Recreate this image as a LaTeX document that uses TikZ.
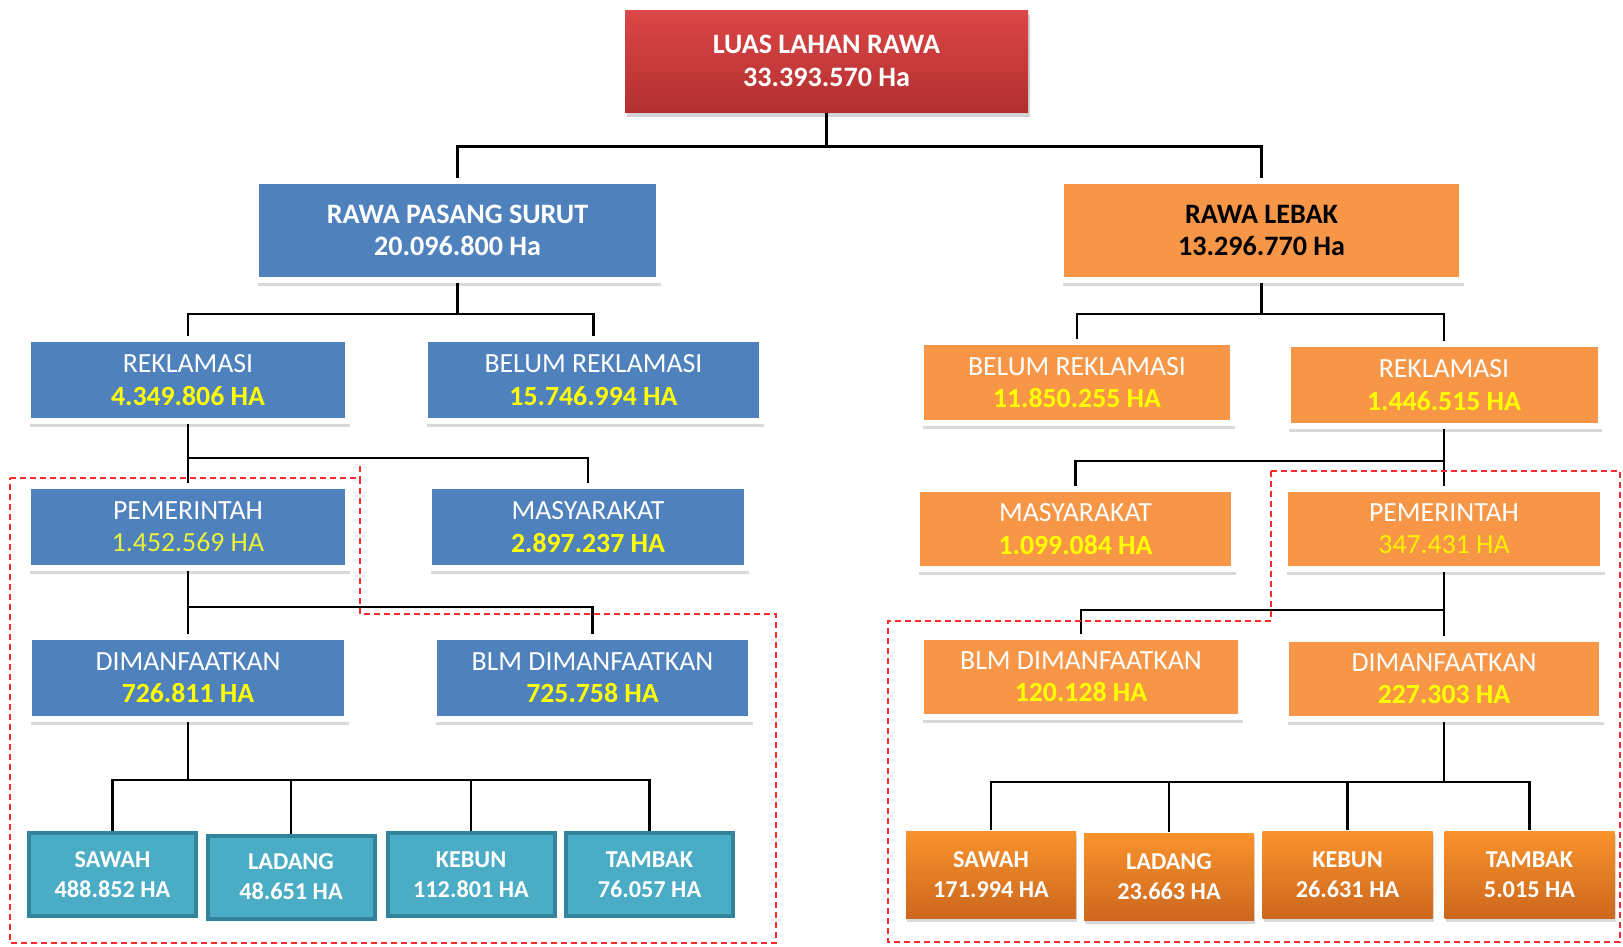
\documentclass[tikz,border=0pt]{standalone}
\usepackage{fontspec}
\setmainfont{Carlito}
\usetikzlibrary{shadows}

\definecolor{rawabiru}{HTML}{4F81BD}
\definecolor{rawaoranye}{HTML}{F79646}
\definecolor{merahatas}{HTML}{DC4646}
\definecolor{merahbawah}{HTML}{B22F30}
\definecolor{tosca}{HTML}{4BACC6}
\definecolor{toscagelap}{HTML}{31849B}
\definecolor{oranyeatas}{HTML}{FA932C}
\definecolor{oranyebawah}{HTML}{CC671E}
\definecolor{kuning}{HTML}{FFFF00}
\definecolor{kuningmuda}{HTML}{EAF23A}
\definecolor{kuningemas}{HTML}{FFF200}
\definecolor{garisbatas}{HTML}{FF2A2A}

\newcommand{\luas}[1]{\textbf{\color{kuning}#1}}

\begin{document}
\begin{tikzpicture}[
    conn/.style={line width=0.028cm, black},
    batas/.style={garisbatas, line width=0.016cm, dash pattern=on 0.06cm off 0.04cm},
    kotak/.style={align=center, inner sep=0pt, line width=0.06cm, draw=white,
        font=\fontsize{7.9}{9.2}\selectfont, text=white,
        drop shadow={shadow xshift=0.015cm, shadow yshift=-0.06cm, opacity=0.3}},
    biru/.style={kotak, fill=rawabiru},
    oranye/.style={kotak, fill=rawaoranye},
    kecil/.style={align=center, inner sep=0pt, minimum width=1.67cm, minimum height=0.83cm,
        font=\fontsize{6.9}{8.5}\selectfont\bfseries, text=white},
    kebiru/.style={kecil, fill=tosca, draw=toscagelap, line width=0.04cm},
    keoranye/.style={kecil, top color=oranyeatas, bottom color=oranyebawah,
        minimum width=1.70cm, minimum height=0.87cm,
        drop shadow={shadow xshift=0.01cm, shadow yshift=-0.04cm, opacity=0.3}}
]
\useasboundingbox (0,0) rectangle (16.23,-9.46);

% Induk
\node[align=center, inner sep=0pt, minimum width=4.03cm, minimum height=1.02cm,
    top color=merahatas, bottom color=merahbawah, text=white,
    font=\fontsize{8}{9.3}\selectfont\bfseries,
    drop shadow={shadow xshift=0.02cm, shadow yshift=-0.05cm, opacity=0.35}]
    (lahan) at (8.265,-0.61) {LUAS LAHAN RAWA\\33.393.570 Ha};

% Tingkat 1
\node[biru, minimum width=4.03cm, minimum height=0.99cm, font=\fontsize{8}{9.3}\selectfont\bfseries]
    (pasang) at (4.575,-2.305) {RAWA PASANG SURUT\\20.096.800 Ha};
\node[oranye, minimum width=4.01cm, minimum height=0.99cm, text=black, font=\fontsize{8}{9.3}\selectfont\bfseries]
    (lebak) at (12.615,-2.305) {RAWA LEBAK\\13.296.770 Ha};

% Tingkat 2
\node[biru, minimum width=3.20cm, minimum height=0.82cm] (reklL) at (1.88,-3.80) {REKLAMASI\\\luas{4.349.806 HA}};
\node[biru, minimum width=3.37cm, minimum height=0.82cm] (belumL) at (5.935,-3.80) {BELUM REKLAMASI\\\luas{15.746.994 HA}};
\node[oranye, minimum width=3.12cm, minimum height=0.81cm] (belumR) at (10.77,-3.825) {BELUM REKLAMASI\\\luas{11.850.255 HA}};
\node[oranye, minimum width=3.13cm, minimum height=0.82cm] (reklR) at (14.44,-3.85) {REKLAMASI\\\luas{1.446.515 HA}};

% Tingkat 3
\node[biru, minimum width=3.20cm, minimum height=0.82cm] (pemL) at (1.88,-5.27) {PEMERINTAH\\{\color{kuningmuda}1.452.569 HA}};
\node[biru, minimum width=3.18cm, minimum height=0.82cm] (masyL) at (5.88,-5.27) {MASYARAKAT\\\luas{2.897.237 HA}};
\node[oranye, minimum width=3.17cm, minimum height=0.80cm] (masyR) at (10.755,-5.29) {MASYARAKAT\\\luas{1.099.084 HA}};
\node[oranye, minimum width=3.18cm, minimum height=0.80cm] (pemR) at (14.44,-5.29) {PEMERINTAH\\{\color{kuningemas}347.431 HA}};

% Tingkat 4
\node[biru, minimum width=3.18cm, minimum height=0.82cm] (dimL) at (1.88,-6.78) {DIMANFAATKAN\\\luas{726.811 HA}};
\node[biru, minimum width=3.17cm, minimum height=0.82cm] (blmL) at (5.925,-6.78) {BLM DIMANFAATKAN\\\luas{725.758 HA}};
\node[oranye, minimum width=3.20cm, minimum height=0.80cm] (blmR) at (10.81,-6.77) {BLM DIMANFAATKAN\\\luas{120.128 HA}};
\node[oranye, minimum width=3.16cm, minimum height=0.80cm] (dimR) at (14.44,-6.79) {DIMANFAATKAN\\\luas{227.303 HA}};

% Tingkat 5
\node[kebiru] (sawahL) at (1.125,-8.745) {SAWAH\\488.852 HA};
\node[kebiru] (ladangL) at (2.91,-8.77) {LADANG\\48.651 HA};
\node[kebiru] (kebunL) at (4.71,-8.745) {KEBUN\\112.801 HA};
\node[kebiru] (tambakL) at (6.495,-8.745) {TAMBAK\\76.057 HA};
\node[keoranye] (sawahR) at (9.91,-8.745) {SAWAH\\171.994 HA};
\node[keoranye] (ladangR) at (11.69,-8.765) {LADANG\\23.663 HA};
\node[keoranye] (kebunR) at (13.475,-8.745) {KEBUN\\26.631 HA};
\node[keoranye] (tambakR) at (15.295,-8.745) {TAMBAK\\5.015 HA};

% Garis penghubung
\draw[conn] (lahan.south) -- ++(0,-0.34) -| (pasang.north);
\draw[conn] (lahan.south) -- ++(0,-0.34) -| (lebak.north);

\draw[conn] (pasang.south) -- ++(0,-0.31) -| (reklL.north);
\draw[conn] (pasang.south) -- ++(0,-0.31) -| (belumL.north);
\draw[conn] (lebak.south) -- ++(0,-0.31) -| (belumR.north);
\draw[conn] (lebak.south) -- ++(0,-0.31) -| (reklR.north);

\draw[conn] (reklL.south) -- ++(0,-0.34) -| (pemL.north);
\draw[conn] (reklL.south) -- ++(0,-0.34) -| (masyL.north);
\draw[conn] (reklR.south) -- ++(0,-0.32) -| (masyR.north);
\draw[conn] (reklR.south) -- ++(0,-0.32) -| (pemR.north);

\draw[conn] (pemL.south) -- ++(0,-0.36) -| (dimL.north);
\draw[conn] (pemL.south) -- ++(0,-0.36) -| (blmL.north);
\draw[conn] (pemR.south) -- ++(0,-0.38) -| (blmR.north);
\draw[conn] (pemR.south) -- ++(0,-0.38) -| (dimR.north);

\foreach \n in {sawahL, ladangL, kebunL, tambakL}
    \draw[conn] (dimL.south) -- ++(0,-0.58) -| (\n.north);
\foreach \n in {sawahR, ladangR, kebunR, tambakR}
    \draw[conn] (dimR.south) -- ++(0,-0.60) -| (\n.north);

% Batas pemerintah
\draw[batas] (0.10,-4.78) -- (3.60,-4.78) -- (3.60,-6.14) -- (7.76,-6.14) -- (7.76,-9.43) -- (0.10,-9.43) -- cycle;
\draw[batas] (3.60,-4.66) -- (3.60,-4.78);
\draw[batas] (12.71,-4.71) -- (16.20,-4.71) -- (16.20,-9.42) -- (8.88,-9.42) -- (8.88,-6.21) -- (12.71,-6.21) -- cycle;
\end{tikzpicture}
\end{document}
